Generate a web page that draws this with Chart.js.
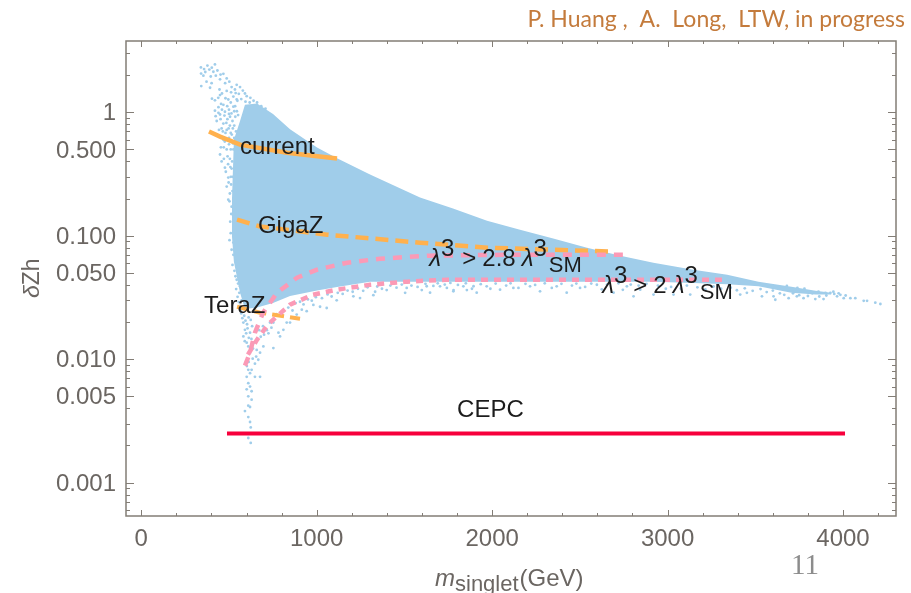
<!DOCTYPE html>
<html>
<head>
<meta charset="utf-8">
<title>deltaZh vs singlet mass</title>
<style>
  html, body { margin: 0; padding: 0; background: #fff; overflow: hidden; }
  canvas { display: block; }
</style>
<script src="https://cdn.jsdelivr.net/npm/chart.js@4"></script>
</head>
<body>
<canvas id="myChart" width="911" height="593"></canvas>
<script>
//Axis ticks
const xMajor = [0, 1000, 2000, 3000, 4000];
const xMinor = [200, 400, 600, 800, 1200, 1400, 1600, 1800, 2200, 2400, 2600, 2800, 3200, 3400, 3600, 3800, 4200];
const yMajor = [0.001, 0.005, 0.01, 0.05, 0.1, 0.5, 1];
const yLabels = ["0.001", "0.005", "0.010", "0.050", "0.100", "0.500", "1"];
const yMinor = [0.0006, 0.0007, 0.0008, 0.0009, 0.002, 0.003, 0.004, 0.006, 0.007, 0.008, 0.009,
  0.02, 0.03, 0.04, 0.06, 0.07, 0.08, 0.09, 0.2, 0.3, 0.4, 0.6, 0.7, 0.8, 0.9, 2, 3];

//Solid part of the scan, read as top and bottom edge
const denseMass = [517, 528, 563, 591, 660, 751, 848, 1002, 1116, 1304, 1589, 1777, 1971, 2159, 2348, 2541, 2731, 2919, 3147, 3340, 3518, 3706, 3843, 3934];
const denseTop = [0.196, 0.6, 0.85, 1.15, 1.18, 0.97, 0.73, 0.518, 0.424, 0.313, 0.204, 0.166, 0.132, 0.112, 0.0948, 0.0801, 0.069, 0.0605, 0.0531, 0.0484, 0.0425, 0.0387, 0.0359, 0.0346];
const denseBottom = [0.0984, 0.0617, 0.0345, 0.0255, 0.0262, 0.0285, 0.0325, 0.036, 0.0385, 0.0425, 0.0425, 0.0425, 0.0425, 0.0425, 0.0425, 0.0425, 0.0425, 0.0425, 0.0415, 0.0405, 0.039, 0.0345, 0.0335, 0.0335];

//Loose scan points around the solid part
const tipPoints = [[340, 2.31], [377, 2.39], [420, 2.44], [388, 2.22], [341, 2.06], [354, 1.98], [411, 2.13], [434, 2.18], [396, 1.95], [372, 1.77], [401, 1.72], [342, 1.63], [392, 1.58],
  [468, 2.05], [487, 1.88], [502, 1.77], [449, 1.85], [446, 1.53], [487, 1.49], [544, 1.67], [534, 1.53], [563, 1.6], [591, 1.42], [403, 1.29], [420, 1.25], [439, 1.31], [449, 1.38],
  [525, 1.34], [468, 1.15], [496, 1.27], [420, 1.03], [449, 0.96], [477, 1.01], [506, 0.92], [424, 0.93], [430, 0.85], [468, 0.81], [525, 1.11], [544, 1.27], [458, 0.74], [487, 0.72],
  [468, 0.6], [449, 0.455], [487, 0.5], [458, 0.4], [477, 0.356], [496, 0.296], [487, 0.25], [496, 0.196], [515, 0.172], [510, 0.68], [500, 0.55], [505, 0.42], [515, 0.35], [512, 0.26],
  [440, 1.1], [460, 1.05], [500, 1.05], [520, 0.85], [505, 0.78], [480, 0.68], [470, 0.52], [500, 0.62], [525, 0.5], [520, 0.3], [505, 0.22],
  [512, 1.45], [556, 1.41], [579, 1.5], [601, 1.35], [622, 1.31], [548, 1.24], [570, 1.28], [594, 1.22], [618, 1.2], [640, 1.24], [660, 1.2], [684, 1.12], [708, 1.07],
  [530, 1.02], [514, 0.98], [491, 0.88], [452, 0.88], [443, 0.72], [474, 0.94], [536, 0.92], [498, 0.74], [516, 0.66], [476, 0.58], [454, 0.52], [492, 0.44], [471, 0.42],
  [482, 0.33], [508, 0.36], [498, 0.27], [510, 0.3], [503, 0.19], [513, 0.15], [507, 0.13], [520, 0.23], [518, 0.4], [523, 0.56], [522, 0.74],
  [358, 2.24], [402, 2.3], [365, 2.12], [425, 1.98], [452, 2.02], [478, 1.72], [515, 1.6], [538, 1.43], [460, 1.42], [480, 1.3], [510, 1.2], [535, 1.12], [490, 1.12], [455, 1.17],
  [440, 0.99], [500, 0.97], [545, 1.02], [552, 0.95], [465, 0.7], [485, 0.82], [530, 0.78], [540, 0.7], [510, 0.5], [495, 0.38], [530, 0.62]];
const leftPoints = [[525, 0.088], [515, 0.077], [534, 0.082], [525, 0.07], [544, 0.064], [548, 0.0565], [553, 0.0505], [544, 0.044], [563, 0.039], [559, 0.0345], [572, 0.03],
  [567, 0.0252], [582, 0.0198], [591, 0.0173], [582, 0.0153], [601, 0.0136], [620, 0.0164], [610, 0.0127],
  [510, 0.105], [503, 0.092], [520, 0.058], [531, 0.052], [537, 0.047], [541, 0.037], [552, 0.041], [549, 0.032], [556, 0.029], [561, 0.027], [570, 0.0235], [576, 0.0215], [587, 0.0225],
  [594, 0.0205], [603, 0.0192], [612, 0.0218], [624, 0.0208], [598, 0.0162], [613, 0.0149], [606, 0.0178], [632, 0.0185], [628, 0.0146], [590, 0.014], [637, 0.0122], [618, 0.0112]];
const spinePoints = [[610, 0.0082], [620, 0.0077], [601, 0.0072], [629, 0.0082], [648, 0.0072], [677, 0.0072], [610, 0.0064], [620, 0.006], [601, 0.0057], [629, 0.0055], [610, 0.005],
  [629, 0.0047], [610, 0.0042], [591, 0.0038], [620, 0.0041], [610, 0.0034], [620, 0.0031], [624, 0.0028], [610, 0.0023], [624, 0.0021],
  [667, 0.0099], [677, 0.0113], [648, 0.0092], [658, 0.0119], [696, 0.0127], [753, 0.0123], [782, 0.0164], [810, 0.0173], [791, 0.0153], [753, 0.0198], [734, 0.0198],
  [612, 0.0095], [635, 0.0101], [602, 0.0088], [655, 0.0105], [640, 0.0135], [664, 0.0146], [681, 0.0152], [700, 0.0158], [716, 0.0172], [672, 0.0172], [694, 0.0185], [725, 0.0162], [742, 0.018]];
const fringePoints = [[829, 0.0198], [848, 0.0198], [886, 0.023], [915, 0.0252], [943, 0.0245], [1019, 0.0266], [1057, 0.026], [981, 0.0275], [1114, 0.03], [1209, 0.0323], [1247, 0.0313],
  [1323, 0.033], [1333, 0.0352], [1399, 0.0363], [1504, 0.0345], [1513, 0.0378], [1599, 0.0363], [1627, 0.039], [1742, 0.0378], [1780, 0.0363], [1856, 0.0363], [1894, 0.039],
  [1646, 0.0346], [1703, 0.0389], [1779, 0.0355], [1836, 0.0389], [1912, 0.0346], [1969, 0.0389], [2045, 0.0366], [2121, 0.0378], [2216, 0.0389], [2273, 0.0355], [2368, 0.0389],
  [2425, 0.0346], [2501, 0.0378], [2597, 0.0401], [2692, 0.0346], [2768, 0.0389], [2806, 0.0323], [2844, 0.0366], [2920, 0.0334],
  [770, 0.0232], [805, 0.0245], [838, 0.0262], [862, 0.0248], [880, 0.0285], [905, 0.0292], [925, 0.0278], [950, 0.0305], [972, 0.0298], [995, 0.0318], [1030, 0.0312], [1062, 0.0335],
  [1085, 0.0322], [1120, 0.0345], [1148, 0.0338], [1176, 0.036], [1205, 0.0352], [1235, 0.0372], [1265, 0.0358], [1290, 0.0382], [1345, 0.0388], [1372, 0.0372], [1420, 0.0395], [1455, 0.038],
  [1485, 0.0402], [1540, 0.0395], [1575, 0.0385], [1620, 0.0408], [1665, 0.0392], [1690, 0.0412], [1730, 0.0402], [1762, 0.0415], [1805, 0.04], [1850, 0.0412], [1885, 0.0372], [1935, 0.0405],
  [1990, 0.0372], [2020, 0.041], [2080, 0.0395], [2105, 0.0412], [2150, 0.0378], [2190, 0.0408], [2245, 0.04], [2300, 0.0412], [2340, 0.0378], [2395, 0.0408], [2455, 0.0395], [2480, 0.041],
  [2530, 0.0385], [2565, 0.041], [2625, 0.0368], [2655, 0.0402], [2720, 0.0412], [2745, 0.0365], [2790, 0.0402], [2835, 0.0395], [2880, 0.0408], [2945, 0.0395], [2990, 0.0372]];
const tailPoints = [[3034, 0.0334], [3129, 0.0334], [3414, 0.0334], [3452, 0.0345], [3538, 0.0323], [3614, 0.0303], [3604, 0.0323], [3690, 0.0312], [3737, 0.0323], [3775, 0.0312],
  [3842, 0.0307], [3889, 0.0307], [3928, 0.0345], [3966, 0.0323], [4004, 0.0312], [4042, 0.0312], [4070, 0.0312], [4118, 0.0297], [4137, 0.0297], [4184, 0.0287], [4213, 0.028],
  [3020, 0.0385], [3075, 0.0372], [3110, 0.0395], [3170, 0.0382], [3215, 0.0368], [3262, 0.0388], [3305, 0.0372], [3360, 0.038], [3395, 0.0362], [3440, 0.0375], [3485, 0.0358], [3530, 0.037],
  [3565, 0.035], [3600, 0.036], [3640, 0.0342], [3665, 0.0332], [3715, 0.0342], [3750, 0.033], [3800, 0.0325], [3825, 0.0342], [3865, 0.0322], [3905, 0.0328], [3950, 0.0338], [3985, 0.0332],
  [3860, 0.0352], [3900, 0.0345], [3945, 0.0352], [3975, 0.0342], [4015, 0.0328], [3780, 0.0372], [3740, 0.0378], [3680, 0.0392]];

//Sensitivity lines
const currentMass = [386, 449, 563, 831, 1116];
const currentZ = [0.698, 0.636, 0.547, 0.471, 0.422];
const gigaMass = [546, 677, 1059, 1589, 1971, 2348, 2690];
const gigaZ = [0.135, 0.119, 0.102, 0.0879, 0.0801, 0.0771, 0.0743];
const teraMass = [546, 677, 905];
const teraZ = [0.0266, 0.0238, 0.0213];
const cepcMass = [500, 4000];
const cepcZ = [0.0025, 0.0025];

//Triple coupling contours
const lambda28Mass = [591, 620, 648, 694, 774, 888, 1002, 1173, 1361, 1646, 2159, 2770];
const lambda28Z = [0.00887, 0.0113, 0.0164, 0.0238, 0.0346, 0.0457, 0.0531, 0.0605, 0.0652, 0.069, 0.0703, 0.0703];
const lambda2Mass = [608, 660, 722, 848, 979, 1116, 1304, 1515, 1743, 2541, 3311];
const lambda2Z = [0.0109, 0.0144, 0.0191, 0.0277, 0.0333, 0.0366, 0.0401, 0.0425, 0.0441, 0.0441, 0.0441];

const pairs = (xs, ys) => xs.map((x, i) => ({ x, y: ys[i] }));
const fromPoints = (list) => list.map((p) => ({ x: p[0], y: p[1] }));

const scanBlue = "#a0cdea";
const orange = "#ffb14e";
const pink = "#fb9ab6";
const axisGray = "#837d76";
const tickText = "#6b6662";
const sans = '"Liberation Sans", Arial, sans-serif';

//Draws a row of differently styled text pieces from one start point
function drawRuns(ctx, x, y, runs) {
  runs.forEach((r) => {
    ctx.font = r.font;
    ctx.fillText(r.text, x, y + (r.dy || 0));
    x += ctx.measureText(r.text).width + (r.gap || 0);
  });
}

const big = "24px " + sans;
const lam = "italic 24px " + sans;
const lambdaRuns = (value, afterSup) => [
  { text: "\u03bb", font: lam },
  { text: "3", font: big, dy: -10, gap: afterSup },
  { text: ">", font: big, gap: 6 },
  { text: value, font: big, gap: 6 },
  { text: "\u03bb", font: lam },
  { text: "3", font: big, dy: -10, gap: 2 },
  { text: "SM", font: "22px " + sans, dy: 6 },
];

//Frame and inward ticks on all four sides
const frameTicks = {
  id: "frameTicks",
  afterDatasetsDraw(chart) {
    const { ctx, chartArea: a, scales } = chart;
    ctx.save();
    ctx.strokeStyle = axisGray;
    ctx.lineWidth = 1;
    ctx.beginPath();
    xMajor.concat(xMinor).forEach((v) => {
      const px = Math.round(scales.x.getPixelForValue(v)) + 0.5;
      const len = xMajor.includes(v) ? 6 : 3;
      ctx.moveTo(px, a.bottom);
      ctx.lineTo(px, a.bottom - len);
      ctx.moveTo(px, a.top);
      ctx.lineTo(px, a.top + len);
    });
    yMajor.concat(yMinor).forEach((v) => {
      const py = Math.round(scales.y.getPixelForValue(v)) + 0.5;
      const len = yMajor.includes(v) ? 8 : 4;
      ctx.moveTo(a.left, py);
      ctx.lineTo(a.left + len, py);
      ctx.moveTo(a.right, py);
      ctx.lineTo(a.right - len, py);
    });
    ctx.stroke();
    ctx.lineWidth = 1.5;
    ctx.strokeRect(a.left, a.top, a.right - a.left, a.bottom - a.top);
    ctx.restore();
  },
};

//Text on the plot and around it
const plotText = {
  id: "plotText",
  afterDraw(chart) {
    const { ctx, scales } = chart;
    const at = (m, z) => [scales.x.getPixelForValue(m), scales.y.getPixelForValue(z)];
    ctx.save();
    ctx.fillStyle = "#1c1c1c";
    ctx.textAlign = "left";
    ctx.textBaseline = "alphabetic";
    ctx.font = big;
    ctx.fillText("current", ...at(563, 0.463));
    ctx.fillText("GigaZ", ...at(665, 0.106));
    ctx.fillText("TeraZ", ...at(358, 0.0238));
    ctx.fillText("CEPC", ...at(1800, 0.00342));
    drawRuns(ctx, ...at(1641, 0.0573), lambdaRuns("2.8", 8));
    drawRuns(ctx, ...at(2627, 0.0346), lambdaRuns("2", 6));

    //x axis title
    ctx.fillStyle = tickText;
    drawRuns(ctx, 435, 586, [
      { text: "m", font: "italic 24px " + sans },
      { text: "singlet", font: "22px " + sans, dy: 5, gap: 1 },
      { text: "(GeV)", font: "24px " + sans },
    ]);

    //y axis title
    ctx.save();
    ctx.translate(39, 298);
    ctx.rotate(-Math.PI / 2);
    drawRuns(ctx, 0, 0, [
      { text: "\u03b4", font: "italic 23px " + sans },
      { text: "Zh", font: "23px " + sans },
    ]);
    ctx.restore();

    //slide credit and page number
    ctx.fillStyle = "#c47b3c";
    ctx.textAlign = "right";
    ctx.font = "23px Lato, sans-serif";
    ctx.fillText("P. Huang ,  A.  Long,  LTW, in progress", 905, 27);
    ctx.fillStyle = "#8c8c8c";
    ctx.textAlign = "left";
    ctx.font = "29px 'Liberation Serif', serif";
    ctx.fillText("11", 791, 574);
    ctx.restore();
  },
};

window.onload = () => {
  const ctx = document.getElementById("myChart");
  const loose = fromPoints([...tipPoints, ...leftPoints, ...spinePoints, ...fringePoints, ...tailPoints]);

  new Chart(ctx, {
    type: "scatter",
    data: {
      datasets: [
        { label: "top", data: pairs(denseMass, denseTop), showLine: true, borderWidth: 0, pointRadius: 0, fill: "+1", backgroundColor: scanBlue, order: 6 },
        { label: "bottom", data: pairs(denseMass, denseBottom), showLine: true, borderWidth: 0, pointRadius: 0, fill: false, order: 7 },
        { label: "scan", data: loose, pointRadius: 1.4, pointBorderWidth: 0, backgroundColor: scanBlue, order: 5 },
        { label: "current", data: pairs(currentMass, currentZ), showLine: true, pointRadius: 0, borderColor: orange, borderWidth: 4.5, order: 2 },
        { label: "GigaZ", data: pairs(gigaMass, gigaZ), showLine: true, pointRadius: 0, borderColor: orange, borderWidth: 4.5, borderDash: [13, 7], order: 2 },
        { label: "TeraZ", data: pairs(teraMass, teraZ), showLine: true, pointRadius: 0, borderColor: orange, borderWidth: 4, borderDash: [12, 6], order: 2 },
        { label: "lambda 2.8", data: pairs(lambda28Mass, lambda28Z), showLine: true, pointRadius: 0, borderColor: pink, borderWidth: 4.5, borderDash: [9, 8], order: 1 },
        { label: "lambda 2", data: pairs(lambda2Mass, lambda2Z), showLine: true, pointRadius: 0, borderColor: pink, borderWidth: 4.5, borderDash: [7, 6], order: 1 },
        { label: "CEPC", data: pairs(cepcMass, cepcZ), showLine: true, pointRadius: 0, borderColor: "#f7003c", borderWidth: 4, borderCapStyle: "square", order: 0 },
      ],
    },
    options: {
      responsive: false,
      animation: false,
      events: [],
      layout: { padding: { top: 41, right: 15, left: 0, bottom: 0 } },
      plugins: { legend: { display: false }, title: { display: false }, tooltip: { enabled: false } },
      scales: {
        x: {
          type: "linear",
          min: -87,
          max: 4302,
          grid: { display: false, drawTicks: false },
          border: { display: false },
          afterBuildTicks: (scale) => { scale.ticks = xMajor.map((value) => ({ value })); },
          afterFit: (scale) => { scale.height = 77; },
          ticks: {
            autoSkip: false,
            maxRotation: 0,
            padding: 9,
            color: tickText,
            font: { family: "Liberation Sans", size: 24 },
            callback: (v) => String(v),
          },
        },
        y: {
          type: "logarithmic",
          min: 0.000537,
          max: 3.78,
          grid: { display: false, drawTicks: false },
          border: { display: false },
          afterBuildTicks: (scale) => { scale.ticks = yMajor.map((value) => ({ value })); },
          afterFit: (scale) => { scale.width = 126; },
          ticks: {
            autoSkip: false,
            padding: 10,
            labelOffset: 1.5,
            color: tickText,
            font: { family: "Liberation Sans", size: 24 },
            callback: (v) => yLabels[yMajor.indexOf(v)],
          },
        },
      },
    },
    plugins: [frameTicks, plotText],
  });
};
</script>
</body>
</html>
